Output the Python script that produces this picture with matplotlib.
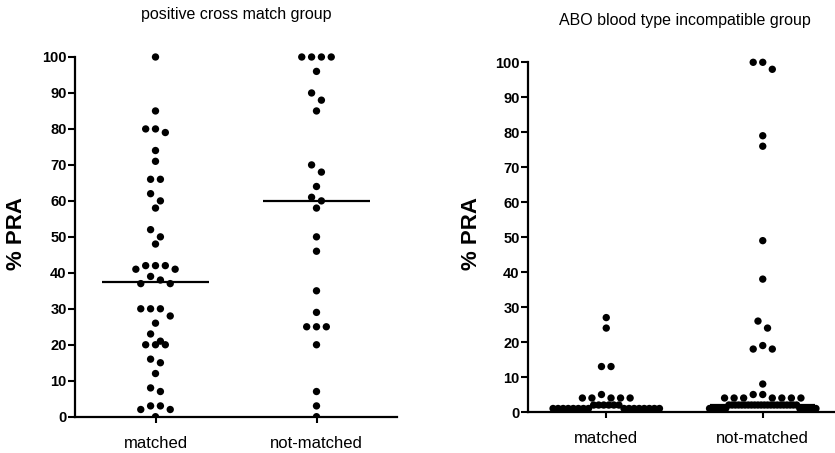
import numpy as np
import matplotlib
matplotlib.use("Agg")
import matplotlib.pyplot as plt

# ---------------- data ----------------
categories = ["matched", "not-matched"]
titles = ["positive cross match group", "ABO blood type incompatible group"]
ylabel = "% PRA"
yticks = [0, 10, 20, 30, 40, 50, 60, 70, 80, 90, 100]

pcm_matched = [100, 85, 80, 80, 79, 74, 71, 66, 66, 62, 60, 58, 52, 50, 48,
               42, 42, 42, 41, 41, 39, 38, 37, 37, 30, 30, 30, 28, 26, 23,
               21, 20, 20, 20, 16, 15, 12, 8, 7, 3, 3, 2, 2, 0]
pcm_not_matched = [100, 100, 100, 100, 96, 90, 88, 85, 70, 68, 64, 61, 60, 58,
                   50, 46, 35, 29, 25, 25, 25, 20, 7, 3, 0]

abo_matched = [27, 24, 13, 13, 5, 4, 4, 4, 4, 4,
               2, 2, 2, 2, 2, 2,
               1, 1, 1, 1, 1, 1, 1, 1, 1, 1, 1, 1, 1, 1, 1, 1]
abo_not_matched = [100, 100, 98, 79, 76, 49, 38, 26, 24, 19, 18, 18, 8, 5, 5,
                   4, 4, 4, 4, 4, 4, 4,
                   2, 2, 2, 2, 2, 2, 2, 2, 2, 2, 2, 2, 2, 2, 2, 2, 2, 2, 2, 2, 2, 2,
                   1, 1, 1, 1, 1, 1, 1, 1, 1, 1, 1, 1]

panels = [[pcm_matched, pcm_not_matched], [abo_matched, abo_not_matched]]

# ---------------- style ----------------
FONT = "Liberation Sans"
plt.rcParams["font.family"] = [FONT, "DejaVu Sans"]

W, H = 835, 453
fig = plt.figure(figsize=(W / 100, H / 100), dpi=100)

# axes rectangles in pixels: (left, right, y0_px, y100_px)
rects = [(75, 397, 416.7, 57.0), (528, 841, 412.0, 62.3)]
label_right_px = [27, 482]
title_y_px = [14, 20]
YTOP = 102.0


def swarm_offsets(vals, h=2.5, step=0.061, maxhalf=0.34):
    vals = np.asarray(vals, dtype=float)
    order = np.argsort(-vals, kind="stable")
    offs = np.zeros(len(vals))
    groups = []
    cur = []
    for idx in order:
        if cur and vals[cur[0]] - vals[idx] >= h:
            groups.append(cur)
            cur = []
        cur.append(idx)
    if cur:
        groups.append(cur)
    for g in groups:
        n = len(g)
        if n == 1:
            continue
        sp = min(step, 2 * maxhalf / (n - 1))
        slots = (np.arange(n) - (n - 1) / 2) * sp
        slot_order = np.argsort(np.abs(slots) + 1e-6 * slots, kind="stable")
        g_sorted = sorted(g, key=lambda i: -vals[i])
        for i, s in zip(g_sorted, slot_order):
            offs[i] = slots[s]
    return offs


for p, (series, rect, title) in enumerate(zip(panels, rects, titles)):
    lpx, rpx, y0px, y100px = rect
    ppu = (y0px - y100px) / 100.0
    top_px = y100px - (YTOP - 100) * ppu
    ax = fig.add_axes([lpx / W, (H - y0px) / H, (rpx - lpx) / W, (y0px - top_px) / H])
    ax.set_xlim(-0.5, 1.5)
    ax.set_ylim(0, YTOP)
    for spine in ["top", "right"]:
        ax.spines[spine].set_visible(False)
    ax.spines["left"].set_bounds(0, 100)
    for spine in ["left", "bottom"]:
        ax.spines[spine].set_linewidth(1.6)
        ax.spines[spine].set_zorder(1)

    for i, vals in enumerate(series):
        offs = swarm_offsets(vals)
        ax.scatter(i + offs, vals, s=28, color="black", edgecolors="none",
                   zorder=3)
        med = np.median(vals)
        ax.hlines(med, i - 0.335, i + 0.335, color="black", lw=1.6, zorder=4)

    ax.set_yticks(yticks)
    ax.set_yticklabels([str(t) for t in yticks], fontweight="bold", fontsize=10.5)
    ax.set_xticks(range(len(categories)))
    ax.set_xticklabels(categories, fontsize=12)
    ax.tick_params(axis="y", length=5, width=1.5, pad=1)
    ax.tick_params(axis="x", length=4, width=1.5, pad=10)

    ax.set_ylabel(ylabel, fontsize=16, fontweight="bold")
    ax.yaxis.set_label_coords((label_right_px[p] - lpx) / (rpx - lpx), 0.5)

    cx = (lpx + rpx) / 2
    fig.text(cx / W, 1 - title_y_px[p] / H, title, ha="center", va="center",
             fontsize=11.5)

fig.savefig("out.png", dpi=100)
